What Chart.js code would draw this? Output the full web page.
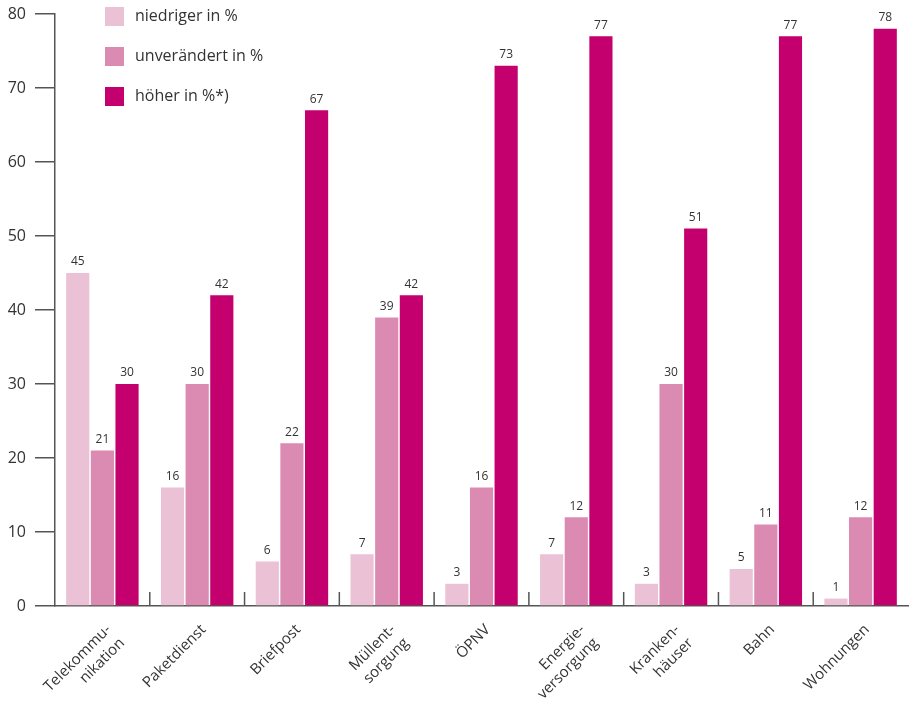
<!DOCTYPE html>
<html>
<head>
<meta charset="utf-8">
<script src="https://cdn.jsdelivr.net/npm/chart.js@4"></script>
<style>
  html, body { margin: 0; padding: 0; background: #fff; }
  #wrap { width: 912px; height: 702px; }
</style>
</head>
<body>
<div id="wrap"><canvas id="myChart"></canvas></div>
<script>
const categories = [
    ['Telekommu-', 'nikation'], 'Paketdienst', 'Briefpost', ['Müllent-', 'sorgung'],
    'ÖPNV', ['Energie-', 'versorgung'], ['Kranken-', 'häuser'], 'Bahn', 'Wohnungen'
];
const seriesNames = ['niedriger in %', 'unverändert in %', 'höher in %*)'];
const niedriger = [45, 16, 6, 7, 3, 7, 3, 5, 1];
const unveraendert = [21, 30, 22, 39, 16, 12, 30, 11, 12];
const hoeher = [30, 42, 67, 42, 73, 77, 51, 77, 78];
const yTicks = [0, 10, 20, 30, 40, 50, 60, 70, 80];

const colors = ['#ebc1d5', '#db8ab1', '#c4006e'];
const fontFamily = '"Open Sans", "Noto Sans", sans-serif';
const textColor = '#333';

// values over the bars
const valueLabels = {
    id: 'valueLabels',
    afterDatasetsDraw(chart) {
        const ctx = chart.ctx;
        ctx.save();
        ctx.font = '12px ' + fontFamily;
        ctx.fillStyle = textColor;
        ctx.textAlign = 'center';
        ctx.textBaseline = 'bottom';
        chart.data.datasets.forEach(function (ds, i) {
            chart.getDatasetMeta(i).data.forEach(function (bar, j) {
                ctx.fillText(ds.data[j], bar.x, bar.y - 5);
            });
        });
        ctx.restore();
    }
};

// short separators standing on the x axis between the groups
const groupSeparators = {
    id: 'groupSeparators',
    afterDraw(chart) {
        const ctx = chart.ctx;
        const xs = chart.scales.x;
        const bottom = chart.chartArea.bottom;
        ctx.save();
        ctx.strokeStyle = '#555';
        ctx.lineWidth = 1.5;
        for (let i = 1; i < categories.length; i++) {
            const x = (xs.getPixelForValue(i - 1) + xs.getPixelForValue(i)) / 2;
            ctx.beginPath();
            ctx.moveTo(x, bottom);
            ctx.lineTo(x, bottom - 14);
            ctx.stroke();
        }
        ctx.restore();
    }
};

// slanted category names, end of the first line under the group centre
const slantedLabels = {
    id: 'slantedLabels',
    afterDraw(chart) {
        const ctx = chart.ctx;
        const xs = chart.scales.x;
        const bottom = chart.chartArea.bottom;
        ctx.save();
        ctx.font = '15px ' + fontFamily;
        ctx.fillStyle = textColor;
        ctx.textAlign = 'right';
        ctx.textBaseline = 'top';
        categories.forEach(function (lab, i) {
            const lines = Array.isArray(lab) ? lab : [lab];
            ctx.save();
            ctx.translate(xs.getPixelForValue(i) + 1, bottom + 16);
            ctx.rotate(-Math.PI / 4);
            lines.forEach(function (line, k) {
                ctx.fillText(line, 0, k * 19);
            });
            ctx.restore();
        });
        ctx.restore();
    }
};

// legend in the top-left corner of the plot
const cornerLegend = {
    id: 'cornerLegend',
    afterDraw(chart) {
        const ctx = chart.ctx;
        const area = chart.chartArea;
        ctx.save();
        ctx.font = '16px ' + fontFamily;
        ctx.textBaseline = 'middle';
        chart.data.datasets.forEach(function (ds, i) {
            const y = area.top + 2 + i * 40;
            ctx.fillStyle = ds.backgroundColor;
            ctx.fillRect(area.left + 50, y - 9, 19, 19);
            ctx.fillStyle = textColor;
            ctx.fillText(ds.label, area.left + 80, y);
        });
        ctx.restore();
    }
};

new Chart('myChart', {
    type: 'bar',
    data: {
        labels: categories,
        datasets: [
            { label: seriesNames[0], data: niedriger, backgroundColor: colors[0] },
            { label: seriesNames[1], data: unveraendert, backgroundColor: colors[1] },
            { label: seriesNames[2], data: hoeher, backgroundColor: colors[2] }
        ]
    },
    options: {
        responsive: true,
        maintainAspectRatio: false,
        animation: false,
        layout: { padding: { top: 14, right: 4, left: 0, bottom: 0 } },
        datasets: {
            bar: { categoryPercentage: 0.78, barPercentage: 0.94 }
        },
        plugins: {
            legend: { display: false },
            tooltip: { enabled: false }
        },
        scales: {
            x: {
                grid: { display: true, drawOnChartArea: false, drawTicks: false, color: 'transparent' },
                border: { display: true, color: '#555', width: 1.5 },
                ticks: { display: false },
                afterFit(scale) { scale.height = 96; }
            },
            y: {
                min: 0,
                max: 80,
                afterBuildTicks(scale) { scale.ticks = yTicks.map(v => ({ value: v })); },
                grid: { drawOnChartArea: false, drawTicks: true, tickLength: 20, color: '#555', lineWidth: 1.5 },
                border: { display: true, color: '#555', width: 1.5 },
                ticks: {
                    color: textColor,
                    font: { family: fontFamily, size: 16 },
                    padding: 9
                },
                afterFit(scale) {
                    scale.width = 55;
                    scale.paddingTop = 0;
                    scale.paddingBottom = 0;
                }
            }
        }
    },
    plugins: [valueLabels, groupSeparators, slantedLabels, cornerLegend]
});
</script>
</body>
</html>
